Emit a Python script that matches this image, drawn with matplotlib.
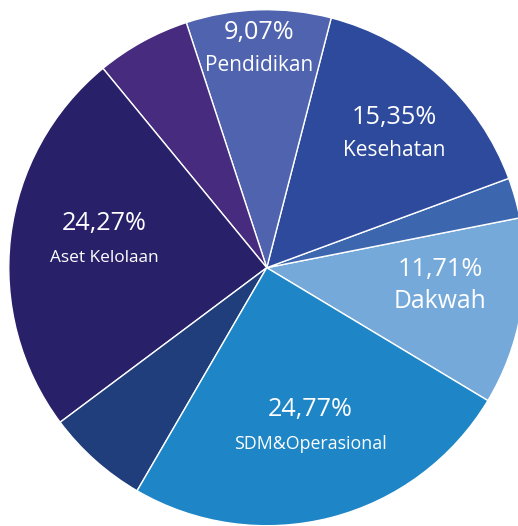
import numpy as np
import matplotlib
matplotlib.use("Agg")
import matplotlib.pyplot as plt

plt.rcParams['font.family'] = ['Open Sans', 'DejaVu Sans']

# Data (counter-clockwise order starting with Dakwah)
categories = ["Dakwah", "Lainnya 1", "Kesehatan", "Pendidikan", "Lainnya 2",
              "Aset Kelolaan", "Lainnya 3", "SDM&Operasional"]
values = [11.71, 2.53, 15.35, 9.07, 5.90, 24.27, 6.40, 24.77]
pct_labels = ["11,71%", None, "15,35%", "9,07%", None, "24,27%", None, "24,77%"]
colors = ["#75A9DA", "#3C67AF", "#2E4A9D", "#5063AE", "#472B7E",
          "#28216A", "#1F3E7B", "#1E86C7"]

# label styling per category (distance from centre, angle tweak, font sizes)
label_dist = [0.675, 0, 0.715, 0.85, 0, 0.64, 0, 0.64]
angle_adj = [4.0, 0, -1.6, 0.1, 0, -2.6, 0, 1.0]
pct_size = [18.2, 0, 18.2, 18.2, 0, 18.2, 0, 18.2]
name_size = [17.8, 0, 15.0, 15.0, 0, 12.4, 0, 12.8]
line_gap = [0.062, 0, 0.064, 0.064, 0, 0.066, 0, 0.066]

fig = plt.figure(figsize=(5.18, 5.26), dpi=100)
ax = fig.add_axes([0, 0, 1, 1])
wedges, _ = ax.pie(values, colors=colors, startangle=-31.0, counterclock=True,
                   radius=1.0, wedgeprops=dict(edgecolor="white", linewidth=1.0))
ax.set_xlim(-1.034, 0.974)
ax.set_ylim(-1.001, 1.0376)
ax.set_aspect('auto')
ax.axis('off')

for w, name, pct, d, adj, ps, ns, g in zip(wedges, categories, pct_labels,
                                           label_dist, angle_adj, pct_size,
                                           name_size, line_gap):
    if pct is None:
        continue
    ang = np.deg2rad((w.theta1 + w.theta2) / 2 + adj)
    cx, cy = d * np.cos(ang), d * np.sin(ang)
    ax.text(cx, cy + g, pct, color="white", fontsize=ps, ha="center", va="center")
    ax.text(cx, cy - g, name, color="white", fontsize=ns, ha="center", va="center")

fig.savefig("out.png", dpi=100)
